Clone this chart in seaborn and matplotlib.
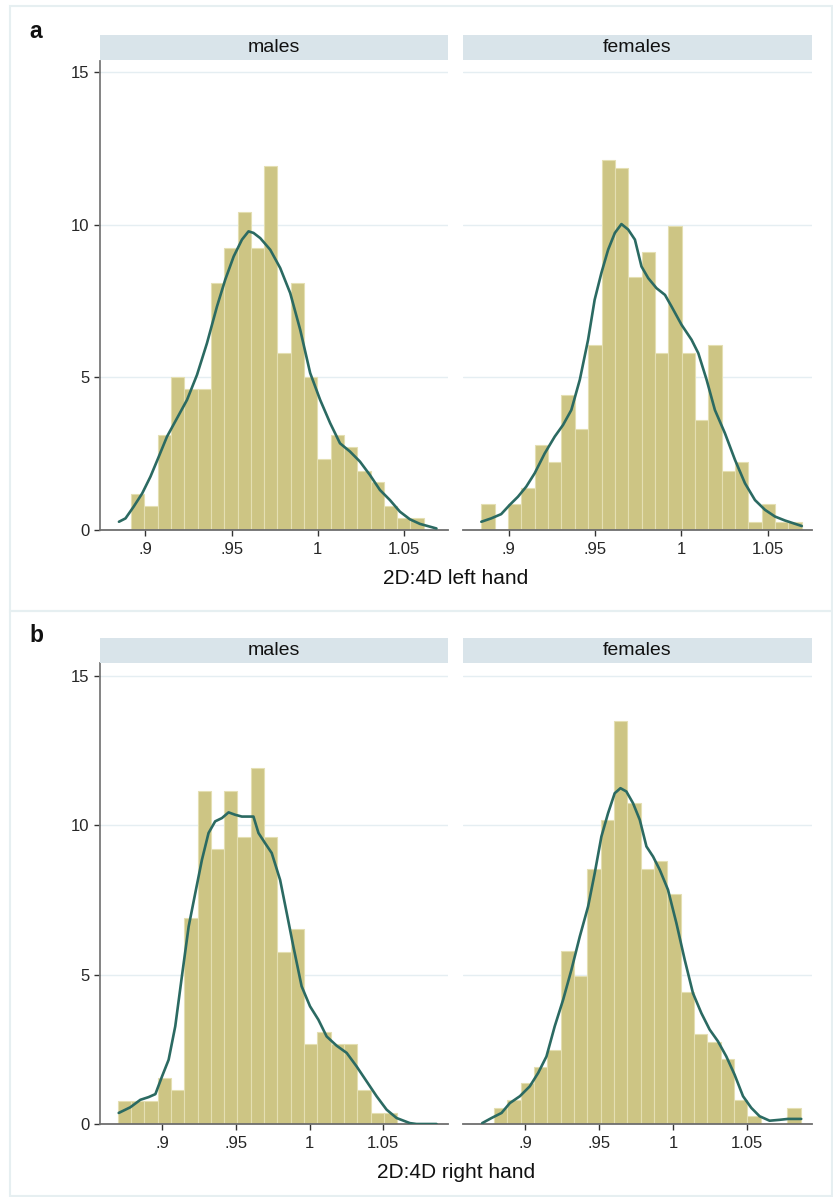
import numpy as np
import pandas as pd
import seaborn as sns
from matplotlib import pyplot as plt
from matplotlib.patches import Rectangle

sns.set_theme(style="white")
plt.rcParams["font.family"] = ["Liberation Sans", "DejaVu Sans"]

# 히스토그램 (bin 시작점, bin 폭, 막대 높이)
left_m_start, left_m_width = 0.8917, 0.00772
left_m_heights = [1.17, 0.79, 3.10, 5.02, 4.63, 4.63, 8.09, 9.23, 10.40, 9.23, 11.93,
                  5.79, 8.09, 5.02, 2.33, 3.10, 2.72, 1.93, 1.56, 0.79, 0.40, 0.40]

left_f_start, left_f_width = 0.8842, 0.00773
left_f_heights = [0.84, 0.0, 0.84, 1.39, 2.77, 2.22, 4.42, 3.32, 6.07, 12.13, 11.86, 8.28,
                  9.10, 5.79, 9.95, 5.79, 3.60, 6.07, 1.93, 2.22, 0.27, 0.84, 0.27, 0.27]

right_m_start, right_m_width = 0.8697, 0.00904
right_m_heights = [0.76, 0.76, 0.76, 1.54, 1.15, 6.91, 11.14, 9.22, 11.14, 9.60, 11.92,
                   9.60, 5.75, 6.54, 2.68, 3.07, 2.68, 2.68, 1.15, 0.37, 0.37]

right_f_start, right_f_width = 0.8788, 0.00902
right_f_heights = [0.54, 0.81, 1.37, 1.91, 2.49, 5.78, 4.96, 8.53, 10.18, 13.49, 10.74, 8.53,
                   8.81, 7.69, 4.41, 3.02, 2.74, 2.19, 0.81, 0.26, 0.0, 0.0, 0.54]

# kernel density 곡선 (그림에서 읽은 점)
left_m_kx = [0.8846, 0.8884, 0.8932, 0.8981, 0.9029, 0.9077, 0.9125, 0.9183, 0.9241, 0.9299,
             0.9357, 0.9415, 0.9463, 0.9512, 0.9560, 0.9598, 0.9627, 0.9666, 0.9724, 0.9782,
             0.9840, 0.9898, 0.9956, 1.0014, 1.0072, 1.0129, 1.0187, 1.0245, 1.0303, 1.0361,
             1.0419, 1.0477, 1.0535, 1.0593, 1.0689]
left_m_ky = [0.27, 0.38, 0.77, 1.20, 1.75, 2.40, 3.06, 3.66, 4.26, 5.08,
             6.12, 7.32, 8.20, 8.96, 9.51, 9.78, 9.73, 9.56, 9.18, 8.58,
             7.76, 6.56, 5.14, 4.26, 3.50, 2.84, 2.57, 2.24, 1.80, 1.31,
             0.98, 0.60, 0.35, 0.20, 0.05]

left_f_kx = [0.8842, 0.8899, 0.8957, 0.9006, 0.9054, 0.9102, 0.9151, 0.9209, 0.9267, 0.9315,
             0.9363, 0.9412, 0.9460, 0.9498, 0.9537, 0.9576, 0.9615, 0.9653, 0.9692, 0.9731,
             0.9769, 0.9808, 0.9856, 0.9905, 0.9943, 1.0001, 1.0059, 1.0098, 1.0146, 1.0194,
             1.0252, 1.0310, 1.0368, 1.0426, 1.0484, 1.0542, 1.0600, 1.0697]
left_f_ky = [0.27, 0.38, 0.52, 0.82, 1.09, 1.42, 1.86, 2.51, 3.06, 3.44,
             3.93, 4.92, 6.23, 7.54, 8.42, 9.18, 9.73, 10.02, 9.84, 9.51,
             8.63, 8.25, 7.92, 7.70, 7.32, 6.72, 6.23, 5.79, 4.92, 3.93,
             3.17, 2.30, 1.53, 0.98, 0.66, 0.44, 0.31, 0.13]

right_m_kx = [0.8704, 0.8783, 0.8851, 0.8907, 0.8953, 0.8998, 0.9043, 0.9088, 0.9133, 0.9179,
              0.9224, 0.9269, 0.9314, 0.9359, 0.9405, 0.9450, 0.9495, 0.9540, 0.9596, 0.9619,
              0.9653, 0.9698, 0.9743, 0.9800, 0.9845, 0.9890, 0.9946, 1.0003, 1.0060, 1.0116,
              1.0184, 1.0252, 1.0319, 1.0387, 1.0455, 1.0523, 1.0591, 1.0681, 1.0726, 1.0862]
right_m_ky = [0.37, 0.56, 0.81, 0.90, 1.00, 1.59, 2.15, 3.27, 4.94, 6.61,
              7.73, 8.84, 9.74, 10.13, 10.24, 10.43, 10.35, 10.29, 10.29, 10.29,
              9.74, 9.40, 9.07, 8.17, 7.06, 5.94, 4.61, 3.94, 3.49, 2.93,
              2.62, 2.38, 1.93, 1.43, 0.93, 0.48, 0.20, 0.03, 0.0, 0.0]

right_f_kx = [0.8707, 0.8770, 0.8838, 0.8894, 0.8962, 0.9029, 0.9086, 0.9142, 0.9198, 0.9255,
              0.9311, 0.9368, 0.9424, 0.9469, 0.9514, 0.9559, 0.9604, 0.9643, 0.9683, 0.9728,
              0.9774, 0.9819, 0.9864, 0.9909, 0.9965, 1.0022, 1.0078, 1.0134, 1.0191, 1.0247,
              1.0303, 1.0360, 1.0416, 1.0473, 1.0529, 1.0585, 1.0653, 1.0721, 1.0777, 1.0867]
right_f_ky = [0.03, 0.20, 0.37, 0.70, 0.93, 1.26, 1.71, 2.26, 3.27, 4.16,
              5.16, 6.28, 7.28, 8.40, 9.62, 10.40, 11.07, 11.24, 11.13, 10.74,
              10.18, 9.29, 8.95, 8.51, 7.84, 6.72, 5.50, 4.38, 3.71, 3.16,
              2.77, 2.26, 1.65, 0.93, 0.54, 0.26, 0.11, 0.14, 0.17, 0.17]

x_ticks = [0.9, 0.95, 1.0, 1.05]
x_ticklabels = [".9", ".95", "1", "1.05"]
y_ticks = [0, 5, 10, 15]
y_ticklabels = ["0", "5", "10", "15"]
groups = ["males", "females"]
xlabels = ["2D:4D left hand", "2D:4D right hand"]
panel_letters = ["a", "b"]

bar_color = "#CDC584"
bar_edge = "#E4DFB2"
line_color = "#2B6A62"
strip_color = "#D9E4EA"
grid_color = "#E5EEF2"

W, H = 833, 1197
fig = plt.figure(figsize=(W / 100, H / 100), dpi=100)


def fx(px):
    return px / W


def fy(py):
    return 1 - py / H


# 바깥 테두리
for top, bottom in [(6, 611), (611, 1196)]:
    fig.patches.append(Rectangle((fx(10), fy(bottom)), fx(822), (bottom - top) / H,
                                 transform=fig.transFigure, fill=False,
                                 edgecolor="#E6EFF1", linewidth=1.5))

panels = [
    dict(top=61, bottom=530, strip=35, ymax=15.36, xlim=(0.8736, 1.0756),
         hists=[(left_m_start, left_m_width, left_m_heights), (left_f_start, left_f_width, left_f_heights)],
         kdes=[(left_m_kx, left_m_ky), (left_f_kx, left_f_ky)]),
    dict(top=663, bottom=1124, strip=638, ymax=15.43, xlim=(0.8577, 1.094),
         hists=[(right_m_start, right_m_width, right_m_heights), (right_f_start, right_f_width, right_f_heights)],
         kdes=[(right_m_kx, right_m_ky), (right_f_kx, right_f_ky)]),
]
col_x = [(100, 448), (463, 812)]

for p, panel in enumerate(panels):
    for c, (x0, x1) in enumerate(col_x):
        ax = fig.add_axes([fx(x0), fy(panel["bottom"]), fx(x1 - x0),
                           (panel["bottom"] - panel["top"]) / H])
        start, width, heights = panel["hists"][c]
        edges = [start + width * i for i in range(len(heights) + 1)]
        hist_df = pd.DataFrame({"x": [e + width / 2 for e in edges[:-1]], "w": heights})
        sns.histplot(data=hist_df, x="x", weights="w", bins=edges, stat="count",
                     color=bar_color, edgecolor=bar_edge, linewidth=0.8,
                     alpha=1, ax=ax, zorder=2)
        kx, ky = panel["kdes"][c]
        sns.lineplot(x=kx, y=ky, color=line_color, linewidth=1.9, ax=ax, zorder=3)

        ax.set_xlim(*panel["xlim"])
        ax.set_ylim(0, panel["ymax"])
        ax.set_xlabel("")
        ax.set_ylabel("")
        for yv in y_ticks[1:]:
            ax.axhline(yv, color=grid_color, linewidth=1, zorder=0)
        for s in ["top", "right"]:
            ax.spines[s].set_visible(False)
        ax.spines["bottom"].set_color("#6E6E6E")
        ax.spines["bottom"].set_linewidth(1.3)
        ax.set_xticks(x_ticks)
        ax.set_xticklabels(x_ticklabels, fontsize=12)
        ax.tick_params(axis="x", bottom=True, length=4.5, width=1, color="#333333", pad=4)
        if c == 0:
            ax.spines["left"].set_color("#7A7A7A")
            ax.spines["left"].set_linewidth(1.3)
            ax.set_yticks(y_ticks)
            ax.set_yticklabels(y_ticklabels, fontsize=12)
            ax.tick_params(axis="y", left=True, length=4.5, width=1, color="#333333", pad=3)
        else:
            ax.spines["left"].set_visible(False)
            ax.set_yticks([])

        # 패널 제목 띠
        s_top = panel["strip"]
        fig.patches.append(Rectangle((fx(x0), fy(s_top + 25)), fx(x1 - x0), 25 / H,
                                     transform=fig.transFigure, facecolor=strip_color,
                                     edgecolor="none"))
        fig.text(fx((x0 + x1) / 2), fy(s_top + 12.5), groups[c], fontsize=14,
                 ha="center", va="center", color="#111111")

    fig.text(fx(456), fy(panel["bottom"] + 48), xlabels[p], fontsize=15,
             ha="center", va="center", color="#111111")
    fig.text(fx(36), fy(panel["strip"] - 3), panel_letters[p], fontsize=16.5,
             fontweight="bold", ha="center", va="center", color="#111111")

fig.savefig("out.png", dpi=100, facecolor="white")
